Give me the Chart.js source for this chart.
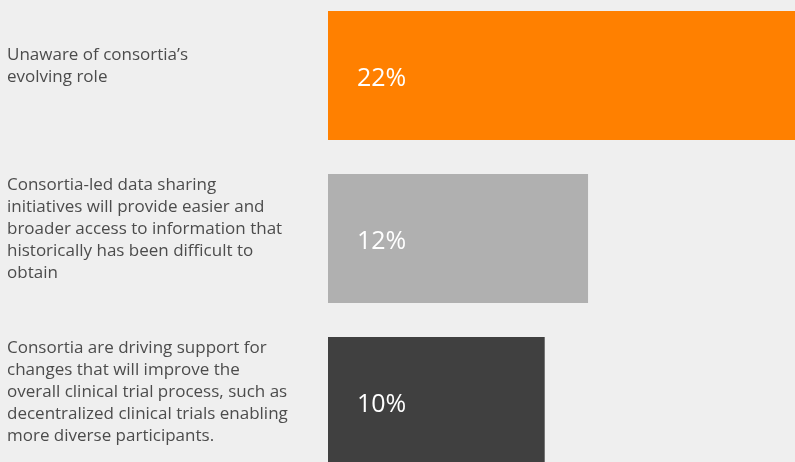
<!DOCTYPE html>
<html>
<head>
<meta charset="utf-8">
<script src="https://cdn.jsdelivr.net/npm/chart.js@4"></script>
<style>
  html, body { margin: 0; padding: 0; background: #efefef; }
  #wrap { width: 795px; height: 462px; position: relative; }
</style>
</head>
<body>
<div id="wrap"><canvas id="chart"></canvas></div>
<script>
// Survey responses: statements about research consortia
const statements = [
  ["Unaware of consortia\u2019s", "evolving role"],
  ["Consortia-led data sharing", "initiatives will provide easier and", "broader access to information that", "historically has been difficult to", "obtain"],
  ["Consortia are driving support for", "changes that will improve the", "overall clinical trial process, such as", "decentralized clinical trials enabling", "more diverse participants."]
];
const shares = [22, 12, 10];
const barColors = ["#ff8000", "#b0b0b0", "#404040"];

// Writes the percentage inside each bar, near its left end
const valueLabels = {
  id: "valueLabels",
  afterDatasetsDraw(chart) {
    const ctx = chart.ctx;
    const meta = chart.getDatasetMeta(0);
    ctx.save();
    ctx.fillStyle = "#ffffff";
    ctx.font = "normal 25px 'Open Sans', sans-serif";
    ctx.textAlign = "left";
    ctx.textBaseline = "middle";
    meta.data.forEach((bar, i) => {
      ctx.fillText(shares[i] + "%", bar.base + 29, bar.y + 3);
    });
    ctx.restore();
  }
};

new Chart(document.getElementById("chart"), {
  type: "bar",
  data: {
    labels: statements,
    datasets: [{
      data: shares,
      backgroundColor: barColors,
      borderWidth: 0,
      barPercentage: 0.79,
      categoryPercentage: 1,
      clip: false
    }]
  },
  options: {
    indexAxis: "y",
    responsive: true,
    maintainAspectRatio: false,
    animation: false,
    layout: { padding: { left: 7, right: 0, top: 75.5, bottom: 60.5 } },
    plugins: { legend: { display: false }, tooltip: { enabled: false } },
    scales: {
      x: {
        display: false,
        min: 0,
        max: 21.55
      },
      y: {
        offset: false,
        border: { display: false },
        grid: { display: false },
        afterFit(axis) { axis.width = 321; },
        ticks: {
          crossAlign: "far",
          labelOffset: -9,
          color: "#4c4c4c",
          font: { family: "'Open Sans', sans-serif", size: 17, lineHeight: "22px" }
        }
      }
    }
  },
  plugins: [valueLabels]
});
</script>
</body>
</html>
